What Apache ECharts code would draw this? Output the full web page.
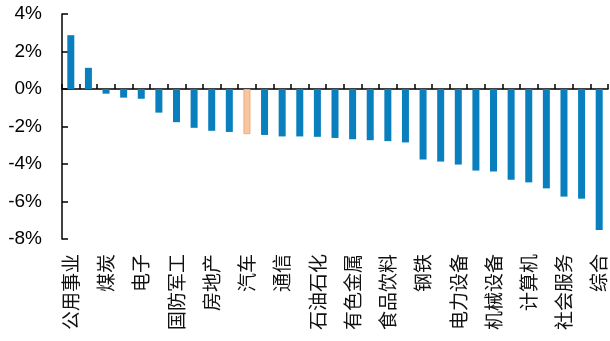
<!DOCTYPE html>
<html>
<head>
<meta charset="utf-8">
<script src="https://cdn.jsdelivr.net/npm/echarts@6/dist/echarts.min.js"></script>
<style>
  html, body { margin: 0; padding: 0; background: #fff; }
  #container { width: 610px; height: 341px; }
</style>
</head>
<body>
<div id="container"></div>
<script>
// 行业涨跌幅（%），按从高到低排列
const industries = [
  '公用事业', '银行', '煤炭', '交通运输', '电子', '非银金融', '国防军工', '建筑装饰',
  '房地产', '家用电器', '汽车', '医药生物', '通信', '基础化工', '石油石化', '建筑材料',
  '有色金属', '农林牧渔', '食品饮料', '环保', '钢铁', '轻工制造', '电力设备', '纺织服饰',
  '机械设备', '传媒', '计算机', '商贸零售', '社会服务', '美容护理', '综合'
]
const changes = [
  2.87, 1.13, -0.25, -0.46, -0.52, -1.26, -1.77, -2.07, -2.23, -2.29, -2.41,
  -2.45, -2.53, -2.53, -2.55, -2.61, -2.68, -2.73, -2.78, -2.85, -3.76,
  -3.87, -4.03, -4.35, -4.40, -4.84, -4.98, -5.30, -5.74, -5.85, -7.52
]
const highlight = '汽车'
const yTicks = [-8, 4, 2] // min, max, interval

let seriesData = industries.map((name, i) => {
  if (name === highlight) {
    return {
      value: changes[i],
      itemStyle: { color: '#f9c6a2', borderColor: '#f2a97a', borderWidth: 1 }
    }
  }
  return changes[i]
})

let mychart = echarts.init(document.getElementById('container'))
mychart.setOption({
  animation: false,
  grid: { left: 62, right: 2, top: 14, bottom: 102 },
  xAxis: [
    {
      type: 'category',
      data: industries,
      position: 'bottom',
      axisLine: { onZero: true, lineStyle: { color: '#000', width: 1.5 } },
      axisTick: { show: true, inside: true, length: 5, interval: 0, lineStyle: { color: '#000', width: 1.5 } },
      axisLabel: { show: false }
    },
    {
      type: 'category',
      data: industries,
      position: 'bottom',
      axisLine: { show: false, onZero: false },
      axisTick: { show: false },
      axisLabel: {
        show: true,
        interval: 1,
        rotate: 90,
        margin: 15,
        color: '#111',
        fontSize: 19,
        fontFamily: 'Noto Sans CJK SC'
      }
    }
  ],
  yAxis: {
    type: 'value',
    min: yTicks[0],
    max: yTicks[1],
    interval: yTicks[2],
    axisLine: { show: true, lineStyle: { color: '#000', width: 1.5 } },
    axisTick: { show: true, inside: true, length: 6, lineStyle: { color: '#000', width: 1.5 } },
    splitLine: { show: false },
    axisLabel: {
      formatter: '{value}%',
      color: '#000',
      fontSize: 19,
      margin: 20,
      fontFamily: 'Liberation Sans'
    }
  },
  series: [
    {
      type: 'bar',
      data: seriesData,
      xAxisIndex: 0,
      barWidth: 7,
      itemStyle: { color: '#0a7fbd' }
    }
  ]
})
</script>
</body>
</html>
